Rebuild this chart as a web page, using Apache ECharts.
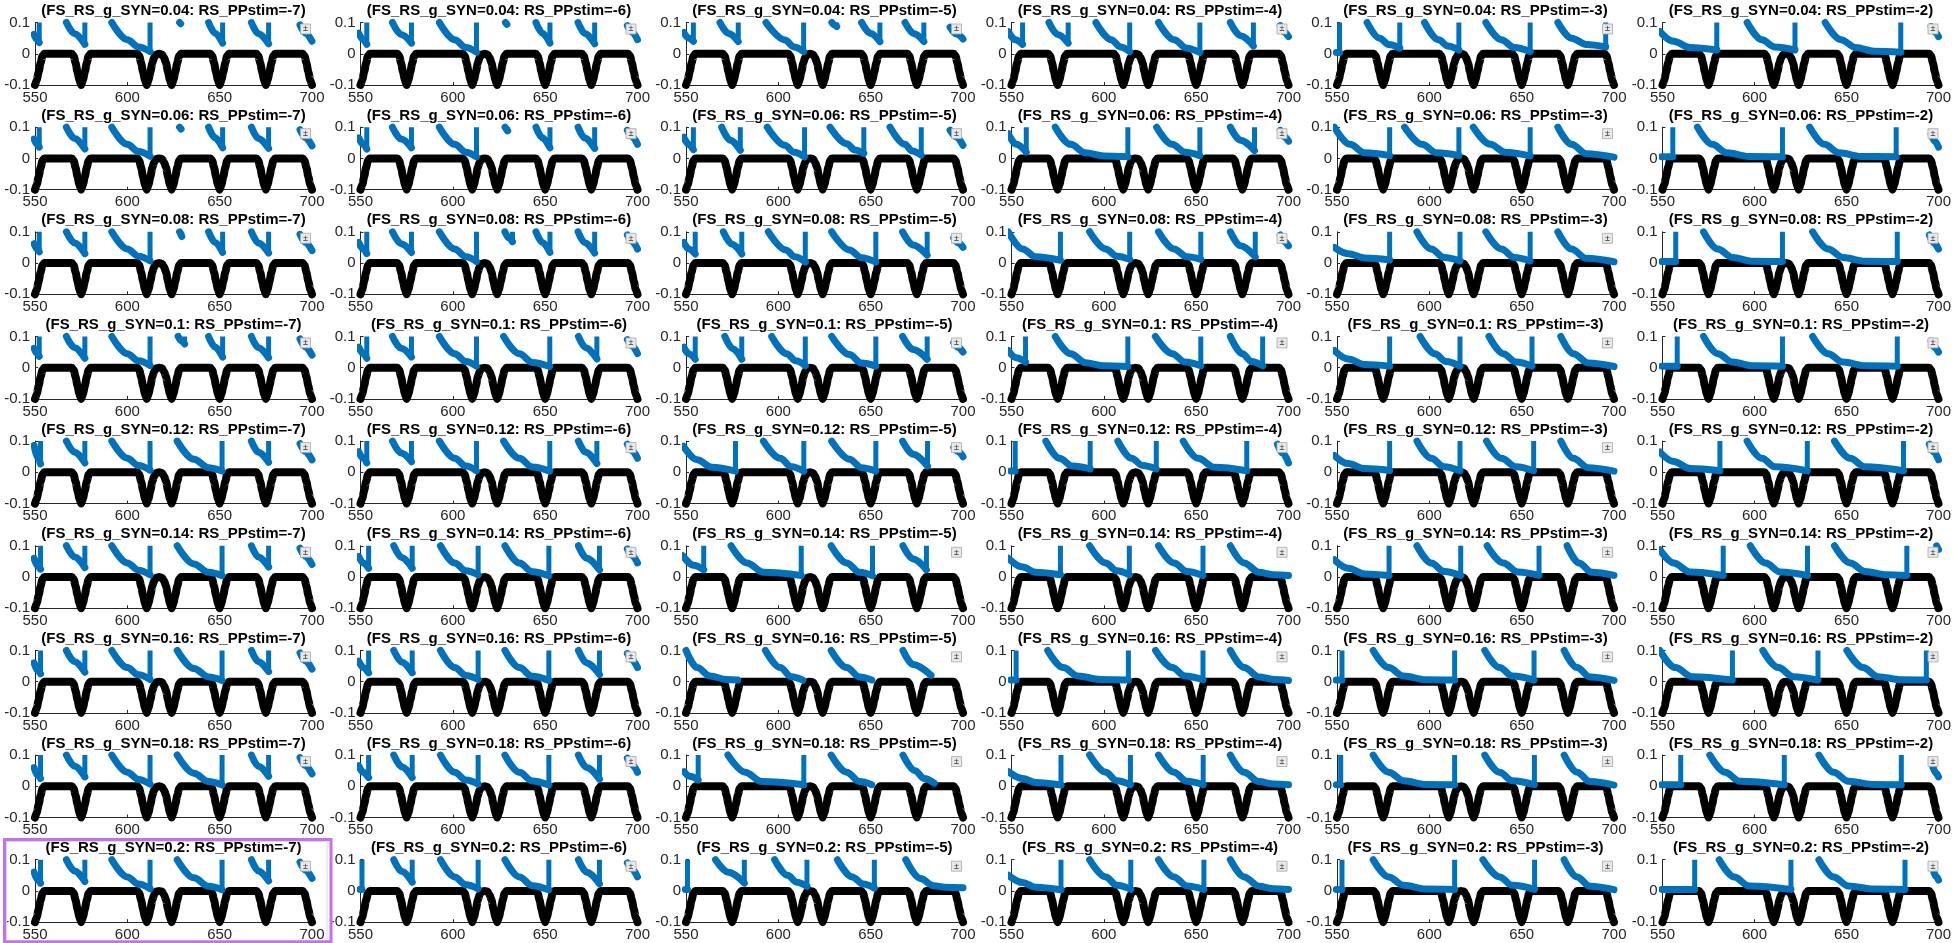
<!DOCTYPE html>
<html>
<head>
<meta charset="utf-8">
<script src="https://cdn.jsdelivr.net/npm/echarts@6/dist/echarts.min.js"></script>
<style>
html, body { margin: 0; padding: 0; background: #fff; }
#chart { width: 1954px; height: 943px; }
</style>
</head>
<body>
<div id="chart"></div>
<script>
// panel labels
var G_SYN = ['0.04', '0.06', '0.08', '0.1', '0.12', '0.14', '0.16', '0.18', '0.2'];
var PP_STIM = [-7, -6, -5, -4, -3, -2];
var X_TICKS = [550, 600, 650, 700];
var Y_TICKS = [-0.1, 0, 0.1];

// stimulus trace (black), same in every panel
var STIM = [
    [550, -0.1], [551, -0.083], [552, -0.058], [553, -0.03], [554, -0.008], [555, 0],
    [570, 0], [571, -0.008], [572, -0.03], [573, -0.058], [574, -0.083], [575, -0.1], [576, -0.083], [577, -0.058], [578, -0.03], [579, -0.008], [580, 0],
    [605.5, 0], [606.5, -0.008], [607.5, -0.03], [608.5, -0.058], [609.5, -0.083], [610.5, -0.1], [611.5, -0.083], [612.5, -0.058], [613.5, -0.03], [614.5, -0.012], [615.7, -0.002],
    [617.2, 0], [618.7, -0.002], [619.9, -0.012], [621, -0.03], [622, -0.058], [623, -0.083], [624, -0.1], [625, -0.083], [626, -0.058], [627, -0.03], [628, -0.008], [629, 0],
    [645, 0], [646, -0.008], [647, -0.03], [648, -0.058], [649, -0.083], [650, -0.1], [651, -0.083], [652, -0.058], [653, -0.03], [654, -0.008], [655, 0],
    [670, 0], [671, -0.008], [672, -0.03], [673, -0.058], [674, -0.083], [675, -0.1], [676, -0.083], [677, -0.058], [678, -0.03], [679, -0.008], [680, 0],
    [695, 0], [696, -0.008], [697, -0.03], [698, -0.058], [699, -0.083], [700, -0.1]
];

// response trace (blue): RESP[row g][col PPstim] = list of pieces,
// each piece is x,y,x,y,... ; a trailing 1 means the piece ends in a spike
var RESP = [
  [ // g=0.04
    [[549.5,0.062, 551,0.046, 552.3,0.036, 1], [567,0.1, 571.5,0.064, 577,0.03, 1], [591.6,0.1, 600,0.045, 606,0.022, 612.3,0.007, 1], [628.3,0.1, 628.9,0.096, 1], [644,0.1, 647.5,0.066, 651.6,0.034, 1], [667.2,0.1, 671,0.064, 676.5,0.032, 1], [693.5,0.092, 696.5,0.066, 700,0.04]],
    [[549,0.066, 551.5,0.045, 553.4,0.03, 1], [567.3,0.1, 572,0.062, 577.6,0.034, 1], [592.7,0.1, 601,0.045, 607,0.02, 612.8,0.005, 1], [628.5,0.1, 629.3,0.094, 1], [645,0.1, 648.5,0.066, 652.6,0.034, 1], [667.8,0.1, 671.5,0.065, 676.8,0.032, 1], [694.5,0.09, 697,0.07, 700,0.045]],
    [[548.8,0.068, 551.5,0.05, 554,0.04, 1], [568.4,0.1, 573,0.065, 578.3,0.039, 1], [593.3,0.1, 603.6,0.044, 608.5,0.022, 613.7,0.007, 1], [629,0.1, 630.5,0.092, 631.6,0.087, 1], [645.1,0.1, 650,0.065, 655,0.039, 1], [668.6,0.1, 673.5,0.064, 678.8,0.039, 1], [693,0.085, 696.5,0.063, 700,0.047]],
    [[548.3,0.071, 552,0.045, 556,0.03, 1], [570.3,0.1, 575,0.062, 580.7,0.034, 1], [595.7,0.1, 604,0.045, 609,0.022, 614,0.007, 1], [629.6,0.1, 638,0.045, 645,0.018, 652,0.004, 1], [668.5,0.1, 674,0.058, 681,0.025, 1], [695.5,0.09, 697.5,0.07, 700,0.055]],
    [[549.6,0.004, 551.4,0.004, 1], [566.3,0.1, 573,0.05, 578,0.03, 584,0.018, 1], [597.4,0.1, 605,0.045, 610,0.025, 616,0.012, 1], [630.6,0.1, 639,0.045, 646,0.02, 654.6,0.007, 1], [669.6,0.1, 677,0.05, 685,0.03, 695.5,0.022, 1]],
    [[548.6,0.071, 556,0.04, 565,0.02, 579.5,0.012, 1], [596,0.1, 604,0.045, 611,0.022, 622,0.012, 1], [638.4,0.1, 647,0.045, 655,0.02, 665,0.008, 679.5,0.005, 1], [696,0.087, 698,0.07, 700,0.055]]
  ],
  [ // g=0.06
    [[549.5,0.062, 551,0.046, 552.3,0.036, 1], [567,0.1, 571.5,0.064, 577,0.03, 1], [591.6,0.1, 600,0.045, 606,0.022, 612.3,0.007, 1], [628.3,0.1, 629.1,0.094, 1], [644,0.1, 647.5,0.066, 651.6,0.034, 1], [667.2,0.1, 671,0.064, 676.5,0.032, 1], [693.5,0.092, 696.5,0.066, 700,0.04]],
    [[549,0.066, 551.5,0.045, 553.4,0.03, 1], [567.3,0.1, 572,0.062, 577.6,0.034, 1], [592.7,0.1, 601,0.045, 607,0.02, 612.8,0.005, 1], [628.3,0.1, 629.7,0.088, 1], [645,0.1, 648.5,0.066, 652.6,0.034, 1], [667.8,0.1, 671.5,0.065, 676.8,0.032, 1], [694.5,0.09, 697,0.07, 700,0.045]],
    [[548.8,0.068, 551.5,0.045, 554,0.028, 1], [569.3,0.1, 574,0.058, 579.4,0.026, 1], [594,0.1, 603.5,0.042, 608.5,0.02, 614.2,0.005, 1], [628,0.1, 637,0.047, 641.5,0.027, 646.3,0.016, 1], [660.5,0.1, 668.5,0.045, 672.5,0.024, 677.4,0.01, 1], [693,0.09, 696.5,0.068, 700,0.042]],
    [[548.3,0.079, 552.5,0.045, 558,0.02, 1], [573.7,0.1, 582,0.045, 590,0.018, 600,0.008, 613,0.005, 1], [628.6,0.1, 637,0.045, 644,0.02, 652,0.009, 1], [668.5,0.1, 674,0.058, 681.6,0.025, 1], [695.5,0.09, 697.5,0.07, 700,0.055]],
    [[548.6,0.1, 557,0.045, 565,0.018, 578.5,0.009, 1], [586.6,0.1, 596,0.045, 604,0.018, 616,0.009, 1], [623.8,0.1, 633,0.045, 641,0.02, 654.6,0.008, 1], [669.6,0.1, 677,0.045, 685,0.015, 700,0.004]],
    [[549.6,0.005, 555.6,0.005, 1], [569,0.1, 577,0.045, 585,0.018, 597,0.006, 615.2,0.005, 1], [630,0.1, 638,0.045, 646,0.018, 658,0.006, 677,0.005, 1], [696,0.078, 698,0.055, 700,0.036]]
  ],
  [ // g=0.08
    [[549.5,0.062, 551,0.046, 552.3,0.036, 1], [567,0.1, 571.5,0.064, 577,0.03, 1], [591.6,0.1, 600,0.045, 606,0.022, 612.3,0.007, 1], [628.3,0.1, 629.5,0.085, 1], [644,0.1, 647.5,0.066, 651.6,0.034, 1], [667.2,0.1, 671,0.064, 676.5,0.032, 1], [693.5,0.092, 696.5,0.066, 700,0.04]],
    [[549,0.066, 551.5,0.045, 553.4,0.03, 1], [567.3,0.1, 572,0.062, 577.6,0.034, 1], [592.7,0.1, 601,0.045, 607,0.02, 612.8,0.005, 1], [628.2,0.1, 630.5,0.08, 632.3,0.068, 1], [645,0.1, 648.5,0.066, 652.6,0.034, 1], [667.8,0.1, 671.5,0.065, 676.8,0.032, 1], [694.5,0.09, 697,0.07, 700,0.045]],
    [[548.8,0.066, 551.5,0.045, 555,0.029, 1], [570.2,0.1, 575,0.06, 580.2,0.029, 1], [594.6,0.1, 604,0.042, 609,0.02, 614.6,0.003, 1], [628.9,0.1, 638.5,0.042, 645,0.017, 652.8,0.003, 1], [667.3,0.1, 673,0.058, 680.6,0.025, 1], [695,0.08, 697.5,0.065, 700,0.05]],
    [[548.3,0.1, 556,0.045, 563,0.02, 576.5,0.009, 1], [592.3,0.1, 601,0.045, 607,0.022, 614,0.012, 1], [629.6,0.1, 638,0.045, 645,0.02, 652.5,0.012, 1], [668.5,0.1, 674,0.055, 682,0.02, 1], [695.5,0.09, 697.5,0.07, 700,0.055]],
    [[548.6,0.05, 556,0.03, 565,0.016, 578.5,0.01, 1], [593.3,0.1, 601,0.045, 608,0.018, 616.6,0.007, 1], [630.6,0.1, 639,0.045, 646,0.018, 654.6,0.007, 1], [669.6,0.1, 677,0.045, 685,0.015, 700,0.004]],
    [[549.6,0.005, 557.2,0.005, 1], [572.3,0.1, 580,0.045, 588,0.018, 599,0.006, 615.2,0.005, 1], [631.6,0.1, 640,0.045, 648,0.018, 660,0.006, 677.6,0.005, 1], [695,0.09, 697.5,0.065, 700,0.045]]
  ],
  [ // g=0.1
    [[549.5,0.062, 551,0.046, 552.3,0.036, 1], [567,0.1, 571.5,0.064, 577,0.03, 1], [591.6,0.1, 600,0.045, 606,0.022, 612.3,0.007, 1], [627.5,0.1, 629.5,0.085, 631,0.076, 1], [644,0.1, 647.5,0.066, 651.6,0.034, 1], [667.2,0.1, 671,0.064, 676.5,0.032, 1], [693.5,0.092, 696.5,0.066, 700,0.04]],
    [[549,0.066, 551.5,0.045, 553.4,0.03, 1], [567.3,0.1, 572,0.062, 577.6,0.034, 1], [592.7,0.1, 601,0.045, 607,0.02, 612.8,0.005, 1], [627.5,0.1, 636,0.045, 643,0.017, 652.5,0.004, 1], [668,0.1, 672,0.064, 678,0.028, 1], [694.5,0.09, 697,0.07, 700,0.045]],
    [[548.8,0.066, 551.5,0.045, 555,0.027, 1], [571,0.1, 575.5,0.06, 580.2,0.027, 1], [596.4,0.1, 604.5,0.045, 609.5,0.022, 614.6,0.006, 1], [628.9,0.1, 638.5,0.042, 645,0.015, 652.8,0.005, 1], [667.3,0.1, 673,0.058, 680.6,0.027, 1], [695,0.08, 697.5,0.065, 700,0.05]],
    [[548.3,0.055, 552.5,0.032, 557.6,0.018, 1], [573.7,0.1, 582,0.045, 590,0.016, 600,0.006, 613,0.004, 1], [627.9,0.1, 637,0.045, 644,0.018, 652.5,0.006, 1], [668.5,0.1, 675,0.045, 680,0.02, 686,0.006, 1]],
    [[548.6,0.055, 556,0.028, 565,0.01, 578.5,0.005, 1], [595,0.1, 603,0.045, 609,0.02, 616.6,0.005, 1], [632.3,0.1, 640,0.045, 647,0.018, 655.6,0.005, 1], [671.2,0.1, 678,0.045, 686,0.015, 700,0.004]],
    [[549.6,0.005, 558,0.005, 1], [572.3,0.1, 580,0.045, 588,0.018, 599,0.006, 615.2,0.005, 1], [631.6,0.1, 640,0.045, 648,0.018, 660,0.006, 677.6,0.005, 1], [696,0.085, 698,0.065, 700,0.05]]
  ],
  [ // g=0.12
    [[549.5,0.086, 551.5,0.045, 553,0.027, 1], [567,0.1, 571.5,0.064, 577,0.03, 1], [591.6,0.1, 600,0.045, 606,0.022, 612.3,0.007, 1], [627,0.1, 636,0.042, 644,0.015, 651.3,0.004, 1], [667.2,0.1, 671,0.064, 676.5,0.032, 1], [693.5,0.092, 696.5,0.066, 700,0.04]],
    [[549,0.066, 551.5,0.045, 553.4,0.03, 1], [567.3,0.1, 572,0.062, 577.6,0.034, 1], [592.7,0.1, 601,0.045, 607,0.02, 612.8,0.005, 1], [627.5,0.1, 636,0.045, 643,0.017, 652.5,0.004, 1], [668,0.1, 672,0.064, 678,0.028, 1], [694.5,0.09, 697,0.07, 700,0.045]],
    [[548.6,0.084, 556,0.04, 564,0.016, 576.8,0.004, 1], [591.9,0.1, 601,0.045, 607,0.018, 613.8,0.004, 1], [628.9,0.1, 638.5,0.042, 645,0.015, 652.8,0.004, 1], [667.3,0.1, 673,0.058, 680.8,0.02, 1], [695,0.08, 697.5,0.066, 700,0.05]],
    [[549.6,0.004, 552,0.004, 1], [568.6,0.1, 576,0.045, 583,0.02, 592.6,0.011, 1], [607.6,0.1, 615,0.045, 621,0.022, 628.4,0.011, 1], [643,0.1, 651,0.045, 660,0.016, 677.4,0.005, 1], [694,0.09, 697,0.06, 700,0.03]],
    [[548.6,0.054, 556,0.028, 565,0.012, 578.5,0.006, 1], [593.3,0.1, 601,0.045, 608,0.018, 616.6,0.005, 1], [631,0.1, 639,0.045, 647,0.018, 656.5,0.005, 1], [671.2,0.1, 678,0.045, 686,0.015, 700,0.004]],
    [[548.6,0.065, 556,0.035, 565,0.012, 581.2,0.005, 1], [596,0.1, 604,0.045, 611,0.018, 628.7,0.005, 1], [643.5,0.1, 652,0.045, 660,0.018, 681,0.005, 1], [695,0.09, 697.5,0.065, 700,0.04]]
  ],
  [ // g=0.14
    [[549.5,0.06, 551.5,0.035, 553,0.025, 1], [567,0.1, 571.5,0.064, 577,0.03, 1], [591.6,0.1, 600,0.045, 606,0.022, 612.3,0.007, 1], [627,0.1, 636,0.042, 644,0.015, 651.3,0.004, 1], [667.2,0.1, 671,0.064, 676.5,0.032, 1], [693.5,0.092, 696.5,0.066, 700,0.04]],
    [[549,0.066, 551.5,0.045, 554.4,0.028, 1], [568,0.1, 572.5,0.062, 578,0.028, 1], [593.3,0.1, 601,0.045, 607,0.02, 613.7,0.007, 1], [628.2,0.1, 636,0.045, 643,0.017, 652,0.004, 1], [668,0.1, 672.5,0.06, 679.4,0.023, 1], [694.5,0.09, 697,0.07, 700,0.045]],
    [[548.3,0.068, 554,0.038, 559.6,0.023, 1], [574.4,0.1, 583,0.045, 592,0.015, 612.4,0.005, 1], [628.6,0.1, 637,0.045, 644,0.015, 651,0.004, 1], [667.5,0.1, 673,0.058, 680.2,0.023, 1]],
    [[548.3,0.06, 556,0.032, 563,0.015, 576.5,0.007, 1], [592.3,0.1, 601,0.045, 607,0.02, 613.8,0.007, 1], [629.6,0.1, 638,0.045, 645,0.018, 653.7,0.005, 1], [668.5,0.1, 676,0.045, 684,0.015, 692,0.007, 700,0.005]],
    [[548.6,0.055, 556,0.028, 565,0.01, 578.2,0.005, 1], [593.3,0.1, 601,0.045, 608,0.018, 617,0.005, 1], [631.3,0.1, 640,0.045, 648,0.016, 659.4,0.005, 1], [674.6,0.1, 681,0.045, 688,0.015, 700,0.005]],
    [[548.6,0.087, 556,0.045, 565,0.016, 583,0.005, 1], [597.7,0.1, 606,0.045, 614,0.016, 628.8,0.005, 1], [643.5,0.1, 652,0.045, 660,0.018, 672,0.007, 682.8,0.005, 1], [699,0.1, 699.6,0.092, 700,0.088]]
  ],
  [ // g=0.16
    [[549.5,0.06, 551.5,0.035, 553,0.025, 1], [567,0.1, 571.5,0.064, 577,0.03, 1], [591.6,0.1, 600,0.045, 606,0.022, 612.3,0.007, 1], [627,0.1, 636,0.042, 644,0.015, 651.3,0.004, 1], [667.2,0.1, 671,0.064, 676.5,0.032, 1], [693.5,0.092, 696.5,0.066, 700,0.04]],
    [[549,0.066, 551.5,0.045, 554.4,0.028, 1], [568,0.1, 572.5,0.062, 578,0.028, 1], [593.3,0.1, 601,0.045, 607,0.02, 613.7,0.007, 1], [628.2,0.1, 636,0.045, 643,0.017, 652,0.004, 1], [668,0.1, 672.5,0.06, 679.4,0.023, 1], [694.5,0.09, 697,0.07, 700,0.045]],
    [[550,0.1, 556,0.045, 563,0.018, 572,0.007, 578,0.005], [593,0.1, 601,0.045, 607,0.016, 613.3,0.005], [628.6,0.1, 637,0.045, 644,0.015, 650.6,0.005], [667.5,0.1, 673,0.055, 682.7,0.02]],
    [[549.6,0.005, 552.5,0.005, 1], [569.6,0.1, 578,0.045, 586,0.018, 598,0.007, 613.3,0.005, 1], [628,0.1, 637,0.045, 644,0.018, 653.7,0.006, 1], [668.5,0.1, 676,0.045, 684,0.015, 692,0.007, 700,0.004]],
    [[549.6,0.005, 552.7,0.005, 1], [569.6,0.1, 578,0.045, 586,0.018, 598,0.006, 613.7,0.005, 1], [630,0.1, 638,0.045, 645,0.018, 656.7,0.005, 1], [673,0.1, 680,0.045, 687,0.015, 700,0.004]],
    [[548.6,0.1, 557,0.045, 566,0.016, 588,0.005, 1], [604.5,0.1, 613,0.045, 621,0.016, 634.5,0.005, 1], [650.2,0.1, 659,0.045, 667,0.016, 680,0.006, 693.4,0.005, 1]]
  ],
  [ // g=0.18
    [[549.5,0.06, 551.5,0.035, 553,0.025, 1], [567,0.1, 571.5,0.064, 577,0.03, 1], [591.6,0.1, 600,0.045, 606,0.022, 612.3,0.007, 1], [627,0.1, 636,0.042, 644,0.015, 651.3,0.004, 1], [667.2,0.1, 671,0.064, 676.5,0.032, 1], [693.5,0.092, 696.5,0.066, 700,0.04]],
    [[549,0.066, 551.5,0.045, 554.4,0.028, 1], [568,0.1, 572.5,0.062, 578,0.028, 1], [593.3,0.1, 601,0.045, 607,0.02, 613.7,0.007, 1], [628.2,0.1, 636,0.045, 643,0.017, 652,0.004, 1], [668,0.1, 672.5,0.06, 679.4,0.023, 1], [694.5,0.09, 697,0.07, 700,0.045]],
    [[549,0.047, 552,0.032, 556.6,0.02, 1], [572.7,0.1, 582,0.045, 591,0.015, 613.8,0.005, 1], [628.6,0.1, 637,0.045, 644,0.015, 650.6,0.005], [667.5,0.1, 674,0.05, 679,0.025, 684.4,0.01]],
    [[548.3,0.047, 556,0.025, 563,0.012, 576.8,0.004, 1], [592.3,0.1, 601,0.045, 607,0.018, 614.4,0.005, 1], [629.6,0.1, 638,0.045, 645,0.016, 653.8,0.005, 1], [668.5,0.1, 676,0.045, 684,0.015, 692,0.007, 700,0.005]],
    [[549.6,0.005, 552,0.005, 1], [569.6,0.1, 578,0.045, 586,0.018, 598,0.006, 613.7,0.005, 1], [630,0.1, 638,0.045, 645,0.018, 656.9,0.005, 1], [673,0.1, 680,0.045, 687,0.015, 700,0.004]],
    [[549.6,0.005, 559.9,0.005, 1], [575.7,0.1, 584,0.045, 592,0.016, 616.2,0.005, 1], [635,0.1, 643,0.045, 651,0.016, 665,0.006, 679.8,0.005, 1], [697,0.061, 699,0.04, 700,0.03]]
  ],
  [ // g=0.2
    [[549.5,0.06, 551.5,0.035, 553,0.025, 1], [567,0.1, 571.5,0.064, 577,0.03, 1], [591.6,0.1, 600,0.045, 606,0.022, 612.3,0.007, 1], [627,0.1, 636,0.042, 644,0.015, 651.3,0.004, 1], [667.2,0.1, 671,0.064, 676.5,0.032, 1], [693.5,0.092, 696.5,0.066, 700,0.04]],
    [[549.6,0.005, 550.8,0.005, 1], [568,0.1, 572.5,0.062, 578,0.028, 1], [593.3,0.1, 601,0.045, 607,0.02, 613.7,0.007, 1], [628.2,0.1, 636,0.045, 643,0.017, 652,0.004, 1], [668,0.1, 672.5,0.06, 679.4,0.023, 1], [694.5,0.09, 697,0.07, 700,0.045]],
    [[549.6,0.005, 550.8,0.005, 1], [566,0.1, 573,0.06, 581.6,0.025, 1], [598,0.1, 605,0.05, 610,0.028, 615.5,0.015, 1], [632,0.1, 640,0.045, 646,0.022, 652,0.009, 1], [669,0.1, 677,0.04, 684,0.017, 690,0.012, 700,0.01]],
    [[548.3,0.05, 556,0.027, 563,0.012, 576.8,0.004, 1], [592.3,0.1, 601,0.045, 607,0.018, 614.6,0.005, 1], [629.6,0.1, 638,0.045, 645,0.016, 654.2,0.005, 1], [668.5,0.1, 676,0.045, 684,0.015, 692,0.007, 700,0.005]],
    [[549.6,0.005, 552.7,0.005, 1], [569.6,0.1, 578,0.045, 586,0.018, 598,0.006, 613.7,0.005, 1], [629,0.1, 638,0.045, 645,0.018, 657,0.005, 1], [673,0.1, 680,0.045, 687,0.015, 700,0.004]],
    [[549.6,0.005, 567.5,0.005, 1], [580.8,0.1, 589,0.045, 597,0.016, 619.8,0.005, 1], [635,0.1, 643,0.045, 651,0.016, 665,0.006, 681.8,0.005, 1], [697.6,0.058, 699,0.045, 700,0.035]]
  ]
];

// layout of the 9 x 6 grid of axes (pixels)
var COL_LEFT = 35, COL_STEP = 325.5, PANEL_W = 277;
var ROW_TOP = 22.5, ROW_STEP = 104.65, PANEL_H = 62.5;
var AXIS_COLOR = '#262626';
var BLUE = '#0072BD';
var FONT = '"Liberation Sans", Helvetica, Arial, sans-serif';

function buildPieces(pieces) {
    var curve = [], spikes = [];
    pieces.forEach(function (p) {
        var hasSpike = p.length % 2 === 1;
        var n = hasSpike ? p.length - 1 : p.length;
        for (var k = 0; k < n; k += 2) curve.push([p[k], p[k + 1]]);
        curve.push(['-', '-']);
        if (hasSpike) {
            spikes.push([p[n - 2], p[n - 1]]);
            spikes.push([p[n - 2], 0.1]);
            spikes.push(['-', '-']);
        }
    });
    return { curve: curve, spikes: spikes };
}

function yLabel(v) {
    return Math.abs(v) < 1e-9 ? '0' : String(+v.toFixed(1));
}

function buildOption(withIconText) {
    var grids = [], xAxes = [], yAxes = [], series = [], elements = [];
    for (var r = 0; r < G_SYN.length; r++) {
        for (var c = 0; c < PP_STIM.length; c++) {
            var i = r * PP_STIM.length + c;
            var left = COL_LEFT + c * COL_STEP;
            var top = ROW_TOP + r * ROW_STEP;

            grids.push({ left: left, top: top, width: PANEL_W, height: PANEL_H });

            xAxes.push({
                type: 'value', gridIndex: i,
                min: X_TICKS[0], max: X_TICKS[X_TICKS.length - 1], interval: X_TICKS[1] - X_TICKS[0],
                axisLine: { onZero: false, lineStyle: { color: AXIS_COLOR, width: 1 } },
                axisTick: { inside: true, length: 3, lineStyle: { color: AXIS_COLOR } },
                axisLabel: { fontSize: 15, color: AXIS_COLOR, margin: 5, fontFamily: FONT },
                splitLine: { show: false }
            });
            yAxes.push({
                type: 'value', gridIndex: i,
                min: Y_TICKS[0], max: Y_TICKS[Y_TICKS.length - 1], interval: Y_TICKS[1] - Y_TICKS[0],
                axisLine: { show: true, lineStyle: { color: AXIS_COLOR, width: 1 } },
                axisTick: { show: true, inside: true, length: 3, lineStyle: { color: AXIS_COLOR } },
                axisLabel: { fontSize: 15, color: AXIS_COLOR, margin: 5, fontFamily: FONT, formatter: yLabel },
                splitLine: { show: false }
            });

            series.push({
                type: 'line', xAxisIndex: i, yAxisIndex: i,
                data: STIM, showSymbol: false, clip: false, silent: true,
                smooth: 0.2, smoothMonotone: 'x',
                lineStyle: { color: '#000', width: 8, join: 'round', cap: 'round' },
                z: 2
            });

            var b = buildPieces(RESP[r][c]);
            series.push({
                type: 'line', xAxisIndex: i, yAxisIndex: i,
                data: b.curve, showSymbol: false, clip: false, silent: true,
                smooth: 0.35, smoothMonotone: 'x',
                lineStyle: { color: BLUE, width: 7, join: 'round', cap: 'round' },
                z: 3
            });
            if (b.spikes.length) {
                series.push({
                    type: 'line', xAxisIndex: i, yAxisIndex: i,
                    data: b.spikes, showSymbol: false, clip: false, silent: true,
                    lineStyle: { color: BLUE, width: 5 },
                    z: 3
                });
            }

            // panel title
            elements.push({
                type: 'text', x: left + PANEL_W / 2, y: top - 4, z: 50,
                style: {
                    text: '(FS_RS_g_SYN=' + G_SYN[r] + ': RS_PPstim=' + PP_STIM[c] + ')',
                    font: 'bold 15px ' + FONT, fill: '#000',
                    align: 'center', verticalAlign: 'bottom'
                }
            });
            // little axes-toolbar icon in the top right corner
            elements.push({
                type: 'rect', z: 60,
                shape: { x: left + PANEL_W - 11.5, y: top + 1.5, width: 10, height: 10 },
                style: { fill: '#e9e9e9', stroke: '#a8a8a8', lineWidth: 0.8 }
            });
            if (withIconText) {
                elements.push({
                    type: 'text', z: 61, x: left + PANEL_W - 6.5, y: top + 6.5,
                    style: { text: '±', font: '9px ' + FONT, fill: '#333', align: 'center', verticalAlign: 'middle' }
                });
            }
        }
    }

    // selection frame around the bottom-left panel
    elements.push({
        type: 'rect', z: 70,
        shape: { x: 6.5, y: 841.5, width: 320.5, height: 103 },
        style: { fill: 'none', stroke: '#dadada', lineWidth: 1 }
    });
    elements.push({
        type: 'rect', z: 71,
        shape: { x: 4.5, y: 839.4, width: 326.5, height: 102.3 },
        style: { fill: 'none', stroke: '#c86ff0', lineWidth: 3 }
    });

    return {
        animation: false,
        backgroundColor: '#fff',
        grid: grids,
        xAxis: xAxes,
        yAxis: yAxes,
        series: series,
        graphic: { elements: elements }
    };
}

var chart = echarts.init(document.getElementById('chart'));
try {
    chart.setOption(buildOption(true));
} catch (e) {
    chart.dispose();
    chart = echarts.init(document.getElementById('chart'));
    chart.setOption(buildOption(false));
}
</script>
</body>
</html>
